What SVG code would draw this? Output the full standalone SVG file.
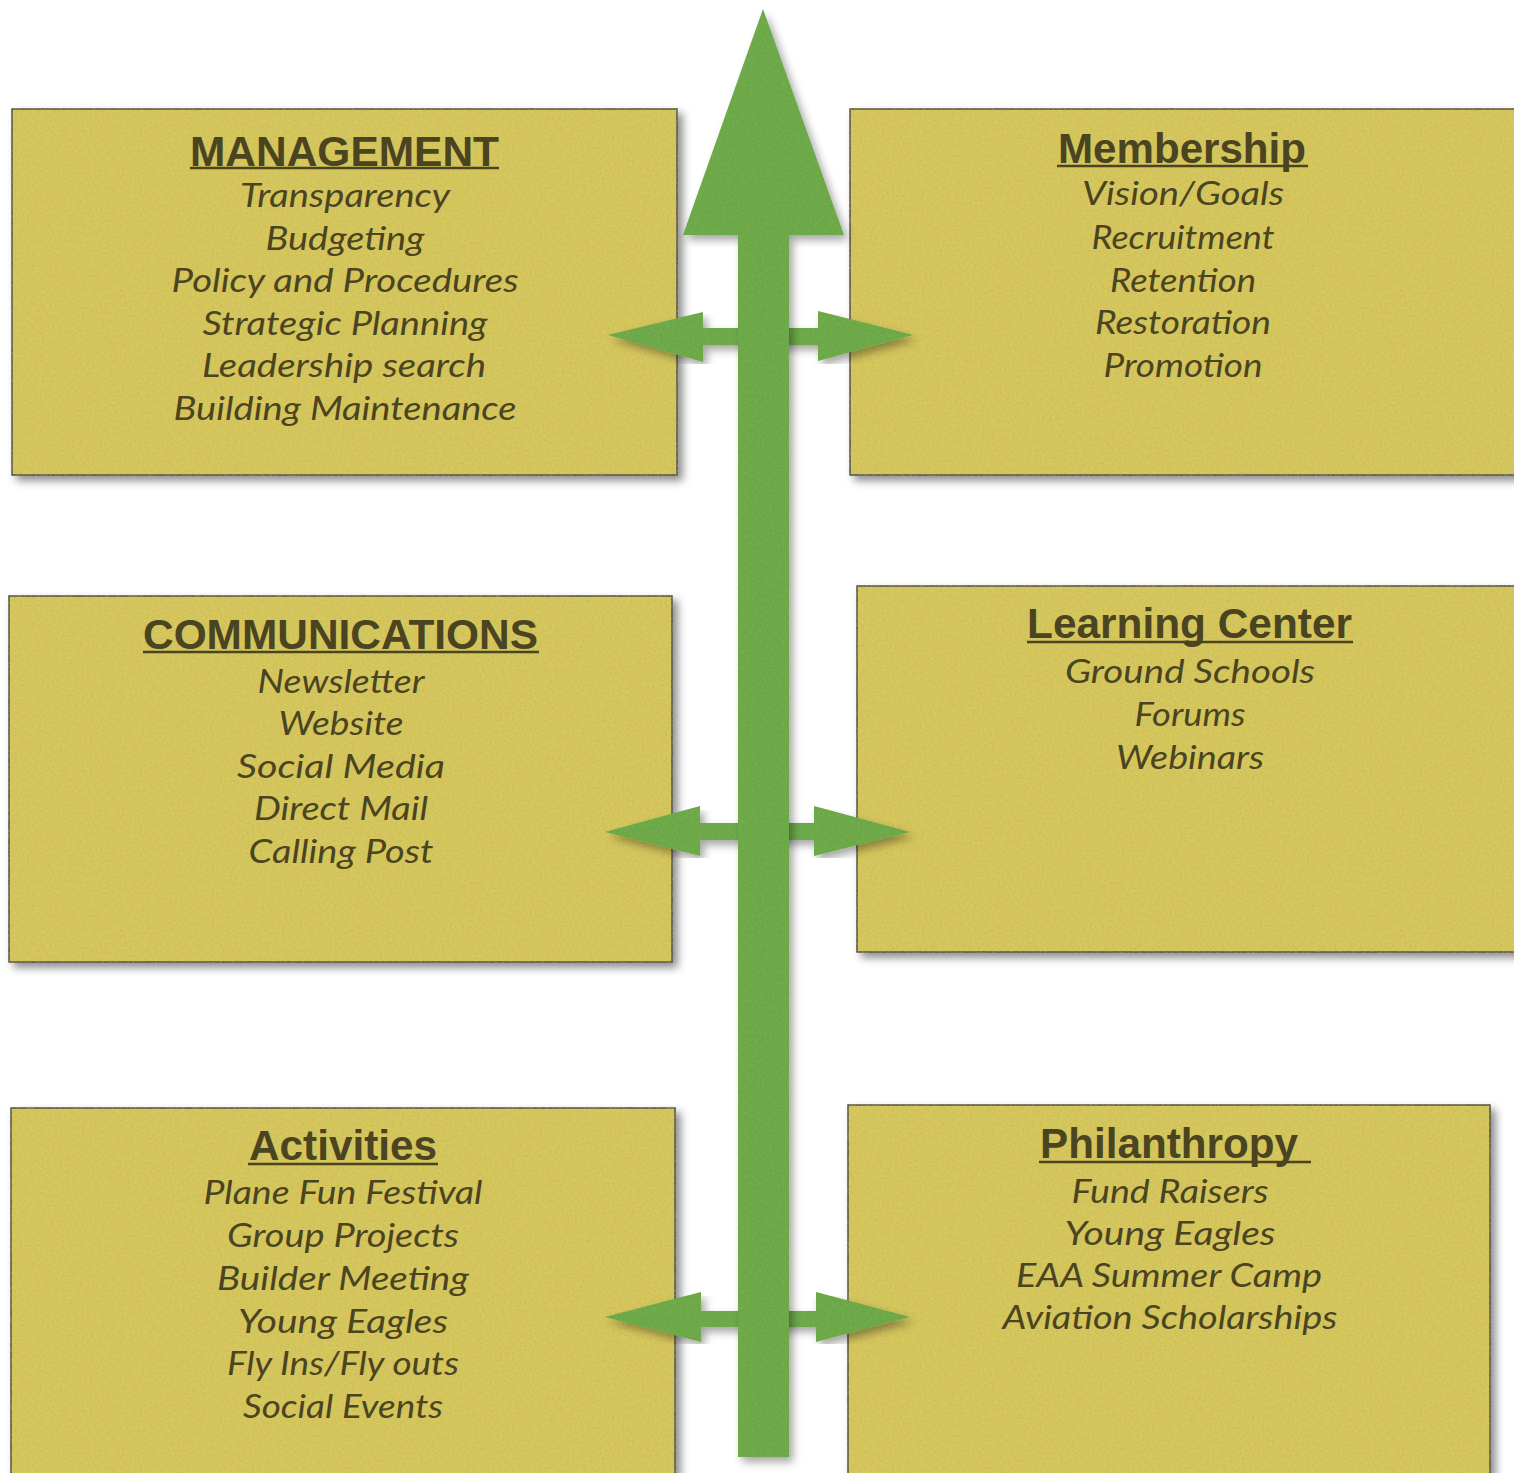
<svg xmlns="http://www.w3.org/2000/svg" width="1514" height="1473" viewBox="0 0 1514 1473">
<defs>
<filter id="paper" x="-5%" y="-5%" width="112%" height="112%">
<feTurbulence type="fractalNoise" baseFrequency="0.4" numOctaves="3" seed="4" result="n"/>
<feColorMatrix in="n" type="matrix" values="0 0 0 0 0.45  0 0 0 0 0.42  0 0 0 0 0.12  0.8 0 0 0 -0.3" result="nc"/>
<feComposite in="nc" in2="SourceAlpha" operator="in" result="tex"/>
<feGaussianBlur in="SourceAlpha" stdDeviation="4" result="b"/>
<feOffset in="b" dx="5" dy="5" result="o"/>
<feFlood flood-color="#000" flood-opacity="0.45"/>
<feComposite in2="o" operator="in" result="sh"/>
<feMerge><feMergeNode in="sh"/><feMergeNode in="SourceGraphic"/><feMergeNode in="tex"/></feMerge>
</filter>
<filter id="grass" x="-5%" y="-2%" width="115%" height="105%">
<feTurbulence type="fractalNoise" baseFrequency="0.4" numOctaves="3" seed="9" result="n"/>
<feColorMatrix in="n" type="matrix" values="0 0 0 0 0.25  0 0 0 0 0.45  0 0 0 0 0.15  0.8 0 0 0 -0.3" result="nc"/>
<feComposite in="nc" in2="SourceAlpha" operator="in" result="tex"/>
<feGaussianBlur in="SourceAlpha" stdDeviation="4" result="b"/>
<feOffset in="b" dx="4" dy="5" result="o"/>
<feFlood flood-color="#000" flood-opacity="0.35"/>
<feComposite in2="o" operator="in" result="sh"/>
<feMerge><feMergeNode in="sh"/><feMergeNode in="SourceGraphic"/><feMergeNode in="tex"/></feMerge>
</filter>
</defs>
<style>
.box{fill:#d7c75c;stroke:#4a4a46;stroke-width:1.5;filter:url(#paper)}
.title{font-family:"Liberation Sans",Arial,sans-serif;font-weight:bold;font-size:42px;fill:#4a4420;text-anchor:middle}
.ul{stroke:#4a4420;stroke-width:2.5}
.item{font-family:Lato,"Open Sans",sans-serif;font-style:italic;font-size:32px;fill:#4a4420;text-anchor:middle}
.arrow{fill:#6aa845;filter:url(#grass)}
</style>
<rect width="1514" height="1473" fill="#ffffff"/>

<g id="management">
<rect class="box" x="12" y="109" width="665" height="366"/>
<text class="title" x="344.5" y="166" textLength="309" lengthAdjust="spacingAndGlyphs">MANAGEMENT</text>
<line class="ul" x1="190" y1="168" x2="499" y2="168"/>
<text class="item" x="345" y="207" textLength="210" lengthAdjust="spacingAndGlyphs">Transparency</text>
<text class="item" x="345" y="250" textLength="159" lengthAdjust="spacingAndGlyphs">Budgeting</text>
<text class="item" x="345" y="292" textLength="347" lengthAdjust="spacingAndGlyphs">Policy and Procedures</text>
<text class="item" x="345" y="335" textLength="285" lengthAdjust="spacingAndGlyphs">Strategic Planning</text>
<text class="item" x="344" y="377" textLength="284" lengthAdjust="spacingAndGlyphs">Leadership search</text>
<text class="item" x="345" y="420" textLength="343" lengthAdjust="spacingAndGlyphs">Building Maintenance</text>
</g>

<g id="membership">
<rect class="box" x="850" y="109" width="700" height="366"/>
<text class="title" x="1182" y="163" textLength="248" lengthAdjust="spacingAndGlyphs">Membership</text>
<line class="ul" x1="1057" y1="166" x2="1308" y2="166"/>
<text class="item" x="1183" y="205" textLength="202" lengthAdjust="spacingAndGlyphs">Vision/Goals</text>
<text class="item" x="1183" y="249" textLength="183" lengthAdjust="spacingAndGlyphs">Recruitment</text>
<text class="item" x="1183" y="292" textLength="146" lengthAdjust="spacingAndGlyphs">Retention</text>
<text class="item" x="1183" y="334" textLength="176" lengthAdjust="spacingAndGlyphs">Restoration</text>
<text class="item" x="1183" y="377" textLength="159" lengthAdjust="spacingAndGlyphs">Promotion</text>
</g>

<g id="communications">
<rect class="box" x="9" y="596" width="663" height="366"/>
<text class="title" x="340.5" y="649" textLength="395" lengthAdjust="spacingAndGlyphs">COMMUNICATIONS</text>
<line class="ul" x1="143" y1="652" x2="539" y2="652"/>
<text class="item" x="341" y="693" textLength="167" lengthAdjust="spacingAndGlyphs">Newsletter</text>
<text class="item" x="341" y="735" textLength="125" lengthAdjust="spacingAndGlyphs">Website</text>
<text class="item" x="341" y="778" textLength="208" lengthAdjust="spacingAndGlyphs">Social Media</text>
<text class="item" x="341" y="820" textLength="174" lengthAdjust="spacingAndGlyphs">Direct Mail</text>
<text class="item" x="341" y="863" textLength="185" lengthAdjust="spacingAndGlyphs">Calling Post</text>
</g>

<g id="learning-center">
<rect class="box" x="857" y="586" width="700" height="366"/>
<text class="title" x="1189.5" y="638" textLength="325" lengthAdjust="spacingAndGlyphs">Learning Center</text>
<line class="ul" x1="1027" y1="642" x2="1353" y2="642"/>
<text class="item" x="1190" y="683" textLength="250" lengthAdjust="spacingAndGlyphs">Ground Schools</text>
<text class="item" x="1190" y="726" textLength="111" lengthAdjust="spacingAndGlyphs">Forums</text>
<text class="item" x="1190" y="769" textLength="148" lengthAdjust="spacingAndGlyphs">Webinars</text>
</g>

<g id="activities">
<rect class="box" x="11" y="1108" width="664" height="420"/>
<text class="title" x="343" y="1160" textLength="188" lengthAdjust="spacingAndGlyphs">Activities</text>
<line class="ul" x1="248" y1="1164" x2="438" y2="1164"/>
<text class="item" x="343" y="1204" textLength="279" lengthAdjust="spacingAndGlyphs">Plane Fun Festival</text>
<text class="item" x="343" y="1247" textLength="232" lengthAdjust="spacingAndGlyphs">Group Projects</text>
<text class="item" x="343" y="1290" textLength="252" lengthAdjust="spacingAndGlyphs">Builder Meeting</text>
<text class="item" x="343" y="1333" textLength="210" lengthAdjust="spacingAndGlyphs">Young Eagles</text>
<text class="item" x="343" y="1375" textLength="232" lengthAdjust="spacingAndGlyphs">Fly Ins/Fly outs</text>
<text class="item" x="343" y="1418" textLength="200" lengthAdjust="spacingAndGlyphs">Social Events</text>
</g>

<g id="philanthropy">
<rect class="box" x="848" y="1105" width="642" height="420"/>
<text class="title" x="1169" y="1158" textLength="258" lengthAdjust="spacingAndGlyphs">Philanthropy</text>
<line class="ul" x1="1039" y1="1162" x2="1311" y2="1162"/>
<text class="item" x="1170" y="1203" textLength="197" lengthAdjust="spacingAndGlyphs">Fund Raisers</text>
<text class="item" x="1170" y="1245" textLength="211" lengthAdjust="spacingAndGlyphs">Young Eagles</text>
<text class="item" x="1169" y="1287" textLength="306" lengthAdjust="spacingAndGlyphs">EAA Summer Camp</text>
<text class="item" x="1170" y="1329" textLength="335" lengthAdjust="spacingAndGlyphs">Aviation Scholarships</text>
</g>

<g id="connectors">
<polygon class="arrow" points="608,335 703,312 703,328 818,328 818,311 913,335 818,361 818,345 703,345 703,362"/>
<polygon class="arrow" points="605,832 700,806 700,823 814,823 814,806 910,832 814,856 814,840 700,840 700,856"/>
<polygon class="arrow" points="605,1317 701,1292 701,1311 816,1311 816,1292 910,1317 816,1342 816,1327 701,1327 701,1342"/>
<polygon class="arrow" points="763,9 844,235 789,235 789,1457 738,1457 738,235 683,235"/>
</g>
</svg>
